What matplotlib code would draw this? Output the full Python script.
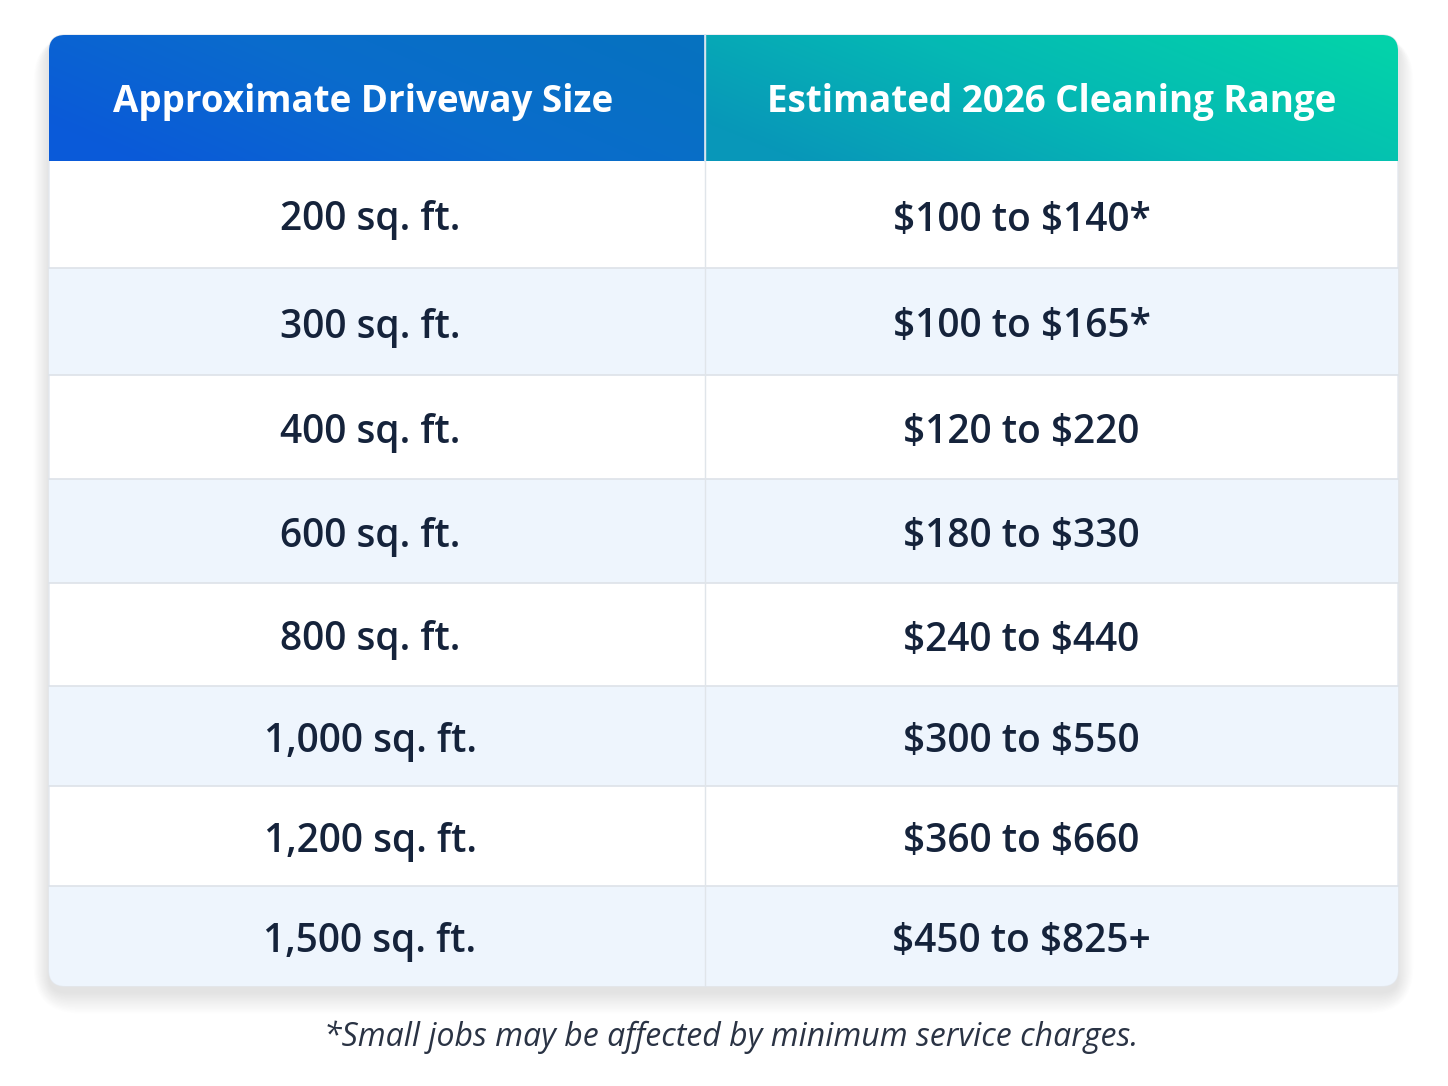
import numpy as np
import matplotlib
matplotlib.use("Agg")
import matplotlib.pyplot as plt
from matplotlib.patches import FancyBboxPatch
from matplotlib.colors import LinearSegmentedColormap

# table content
headers = ["Approximate Driveway Size", "Estimated 2026 Cleaning Range"]
sizes = ["200 sq. ft.", "300 sq. ft.", "400 sq. ft.", "600 sq. ft.",
         "800 sq. ft.", "1,000 sq. ft.", "1,200 sq. ft.", "1,500 sq. ft."]
ranges = ["$100 to $140*", "$100 to $165*", "$120 to $220", "$180 to $330",
          "$240 to $440", "$300 to $550", "$360 to $660", "$450 to $825+"]
footnote = "*Small jobs may be affected by minimum service charges."

# layout (pixels)
W, H = 1448, 1086
left, right, top = 49, 1398, 35
split = 705
edges = [161, 268, 375, 479, 583, 686, 786, 886, 986]
head_bot = edges[0]
bottom = edges[-1]
radius = 16

plt.rcParams['font.family'] = ['Open Sans', 'DejaVu Sans']
plt.rcParams['text.parse_math'] = False
text_col = '#15233b'

fig = plt.figure(figsize=(W / 100, H / 100), dpi=100)
ax = fig.add_axes([0, 0, 1, 1])
ax.set_xlim(0, W)
ax.set_ylim(H, 0)
ax.axis('off')

# soft shadow
for i in range(14):
    g = 2 + i * 2.2
    sh = FancyBboxPatch((left - g * 0.5, top + 6 - g * 0.2), right - left + g * 1.0,
                        bottom - top + g * 0.9,
                        boxstyle="round,pad=0,rounding_size=%d" % (radius + g),
                        fc='#1b2a44', ec='none', alpha=0.008, zorder=1)
    ax.add_patch(sh)

card = FancyBboxPatch((left, top), right - left, bottom - top,
                      boxstyle="round,pad=0,rounding_size=%d" % radius,
                      fc='white', ec='#e3e8ee', lw=1, zorder=2)
ax.add_patch(card)

# alternating row backgrounds
for i in range(len(sizes)):
    if i % 2 == 1:
        r = plt.Rectangle((left, edges[i]), right - left, edges[i + 1] - edges[i],
                          fc='#eef5fd', ec='none', zorder=3)
        r.set_clip_path(card)
        ax.add_patch(r)

# header gradients
blue = LinearSegmentedColormap.from_list('b', ['#0a5ad9', '#0a6ccc', '#0672c0'])
teal = LinearSegmentedColormap.from_list('t', ['#0897b9', '#05b9b4', '#03d2aa'])
xx, yy = np.meshgrid(np.linspace(0, 1, 200), np.linspace(0, 1, 40))
grad = np.clip(0.8 * xx + 0.35 * (1 - yy) - 0.1, 0, 1)
im1 = ax.imshow(grad, cmap=blue, extent=(left, split, head_bot, top), aspect='auto', zorder=4,
                interpolation='bilinear')
im2 = ax.imshow(grad, cmap=teal, extent=(split, right, head_bot, top), aspect='auto', zorder=4,
                interpolation='bilinear')
im1.set_clip_path(card)
im2.set_clip_path(card)
ax.set_xlim(0, W)
ax.set_ylim(H, 0)

# grid lines
for y in edges[1:-1]:
    ax.plot([left, right], [y, y], color='#dfe4ea', lw=1.3, zorder=5)
ax.plot([split, split], [top, bottom], color='#e0e5ea', lw=1.0, zorder=5)
ax.plot([split, split], [top, head_bot], color='#d8e6f0', lw=1.2, zorder=6)

# text
cx1 = (left + split) / 2
cx2 = (split + right) / 2
ax.text(cx1 - 14, (top + head_bot) / 2 + 4, headers[0], color='white', fontsize=26.5,
        fontweight='bold', ha='center', va='center', zorder=7)
ax.text(cx2, (top + head_bot) / 2 + 4, headers[1], color='white', fontsize=26.5,
        fontweight='bold', ha='center', va='center', zorder=7)

for i, (s, rg) in enumerate(zip(sizes, ranges)):
    yc = (edges[i] + edges[i + 1]) / 2 + 6
    ax.text(cx1 - 7, yc, s, color=text_col, fontsize=28, fontweight='semibold',
            ha='center', va='center', zorder=7)
    ax.text(cx2 - 30, yc, rg, color=text_col, fontsize=28, fontweight='semibold',
            ha='center', va='center', zorder=7)

ax.text(731, 1037, footnote, color='#2a3344', fontsize=23, style='italic',
        ha='center', va='center', zorder=7)

fig.savefig('out.png', dpi=100, facecolor='white')
